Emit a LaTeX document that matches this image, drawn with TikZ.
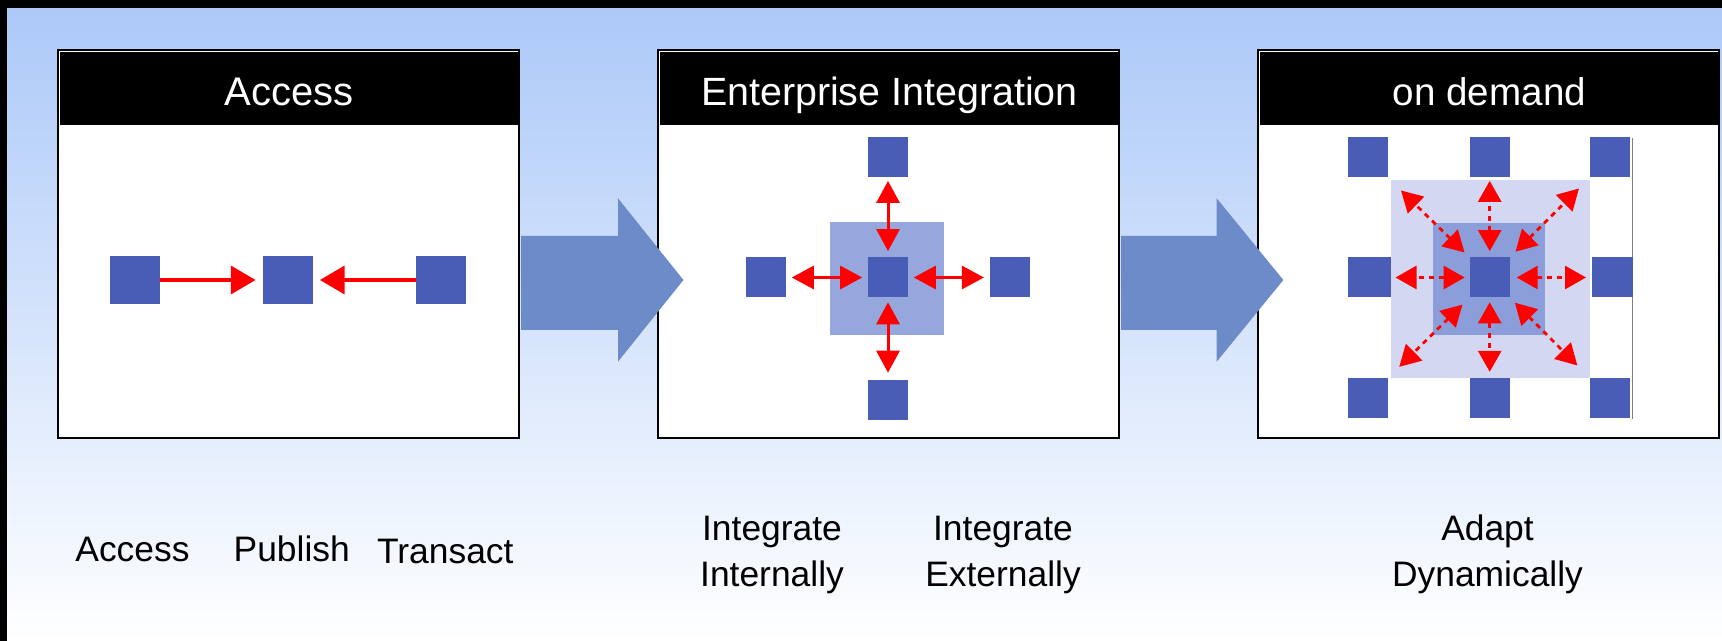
\documentclass[tikz,border=0pt]{standalone}
\usepackage{fontspec}
\setmainfont{Liberation Sans}
\usetikzlibrary{arrows.meta}
\definecolor{bgtop}{HTML}{ACC9F8}
\definecolor{bgbot}{HTML}{FFFFFF}
\definecolor{sqblue}{HTML}{4A5DB6}
\definecolor{arrblue}{HTML}{6E8BC9}
\definecolor{eibg}{HTML}{95A7DD}
\definecolor{odouter}{HTML}{D3D7F1}
\definecolor{odinner}{HTML}{8C9EDA}
\definecolor{redline}{HTML}{FF0000}
\tikzset{
  panel/.style={fill=white, draw=black, line width=1pt, inner sep=0pt, minimum width=230.5pt, minimum height=193.75pt},
  header/.style={fill=black, inner sep=0pt, text=white, minimum width=229.5pt, minimum height=36.5pt, text height=17.5pt, text depth=0pt},
  sq/.style={fill=sqblue, inner sep=0pt, minimum width=#1, minimum height=#1},
  sqr/.style 2 args={fill=sqblue, inner sep=0pt, minimum width=#1, minimum height=#2},
  bgsq/.style 2 args={inner sep=0pt, minimum width=#1, minimum height=#2},
  redone/.style={draw=redline, line width=1.6pt, -{Triangle[length=12.3pt,width=14pt]}, shorten >=3.4pt},
  redtwo/.style={draw=redline, line width=1.5pt, {Triangle[length=11pt,width=11.5pt]}-{Triangle[length=11pt,width=11.5pt]}, shorten <=2.7pt, shorten >=2.7pt},
  reddash/.style={draw=redline, line width=1.4pt, dash pattern=on 2.6pt off 2.4pt, {Triangle[length=10.5pt,width=11.5pt]}-{Triangle[length=10.5pt,width=11.5pt]}},
  bigarrow/.style={fill=arrblue},
  lbl/.style={inner sep=0pt, font=\fontsize{17.7pt}{23pt}\selectfont},
}
\begin{document}
\begin{tikzpicture}[x=0.5pt,y=-0.5pt]
\useasboundingbox (0,0) rectangle (1722,641);
% frame and background
\fill[black] (0,0) rectangle (1722,641);
\shade[top color=bgtop, bottom color=bgbot] (7,9) rectangle (1722,641);

% ---------- Panel 1: Access ----------
\node[panel] (p1) at (288.9,243.75) {};
\node[header, font=\fontsize{20pt}{22pt}\selectfont] (h1) at (289.4,88.5) {Access};
\node[sqr={25pt}{24pt}] (a1) at (134.9,280) {};
\node[sqr={25pt}{24pt}] (a2) at (287.75,280) {};
\node[sqr={25pt}{24pt}] (a3) at (441,280) {};
\draw[redone] (a1) -- (a2);
\draw[redone] (a3) -- (a2);

% ---------- Panel 2: Enterprise Integration ----------
\node[panel] (p2) at (888.9,243.75) {};
\node[header, font=\fontsize{19.7pt}{22pt}\selectfont] (h2) at (889.4,88.5) {Enterprise Integration};
\node[bgsq={57.4pt}{56.65pt}, fill=eibg] (e0) at (887,278.3) {};
\node[sq=20pt] (ec) at (888,277.5) {};
\node[sq=20pt] (et) at (888,157.5) {};
\node[sq=20pt] (eb) at (888,399.7) {};
\node[sq=20pt] (el) at (766,277.5) {};
\node[sq=20pt] (er) at (1009.7,277.5) {};
\draw[redtwo, shorten <=3pt, shorten >=1.5pt] (ec) -- (et);
\draw[redtwo, shorten <=2.2pt, shorten >=3.3pt] (ec) -- (eb);
\draw[redtwo] (ec) -- (el);
\draw[redtwo] (ec) -- (er);

% ---------- Panel 3: on demand ----------
\node[panel] (p3) at (1488.9,243.75) {};
\node[header, font=\fontsize{19.3pt}{22pt}\selectfont] (h3) at (1489.4,88.5) {on demand};
\node[bgsq={99.7pt}{99pt}, fill=odouter] (o1) at (1490.3,279) {};
\node[bgsq={56pt}{56.2pt}, fill=odinner] (o2) at (1489.2,278.8) {};
\draw[gray, line width=0.6pt] (1632.6,138) -- (1632.6,419);
\node[sq=20pt] (d11) at (1367.7,157.5) {};
\node[sq=20pt] (d12) at (1489.7,157.5) {};
\node[sq=20pt] (d13) at (1610,157.5) {};
\node[sqr={21.5pt}{20pt}] (d21) at (1369.2,277.5) {};
\node[sq=20pt] (dc) at (1489.7,277.5) {};
\node[sqr={20.7pt}{20pt}] (d23) at (1612.3,277.5) {};
\node[sq=20pt] (d31) at (1367.7,398.2) {};
\node[sq=20pt] (d32) at (1489.7,398.2) {};
\node[sq=20pt] (d33) at (1610,398.2) {};
\draw[reddash, shorten <=3pt, shorten >=1.5pt] (dc) -- (d12);
\draw[reddash, shorten <=2.2pt, shorten >=3pt] (dc) -- (d32);
\draw[reddash, shorten <=2.3pt, shorten >=2.2pt] (dc) -- (d21);
\draw[reddash, shorten <=3.3pt, shorten >=2.6pt] (dc) -- (d23);
\draw[reddash, shorten <=3.3pt, shorten >=9pt] (dc.north west) -- (d11.south east);
\draw[reddash, shorten <=3.8pt, shorten >=7.5pt] (dc.north east) -- (d13.south west);
\draw[reddash, shorten <=4.8pt, shorten >=7.8pt] (dc.south west) -- (d31.north east);
\draw[reddash, shorten <=3.4pt, shorten >=8.7pt] (dc.south east) -- (d33.north west);

% ---------- Big block arrows ----------
\fill[bigarrow] (521,236) -- (618,236) -- (618,198.3) -- (683.4,280) -- (618,361.7) -- (618,330) -- (521,330) -- cycle;
\fill[bigarrow] (1121.2,236) -- (1216.7,236) -- (1216.7,198.3) -- (1283.3,280) -- (1216.7,361.7) -- (1216.7,330) -- (1121.2,330) -- cycle;

% ---------- Bottom labels ----------
\node[lbl, anchor=base west] (l1) at (75,561.7) {Access};
\node[lbl, anchor=base west] (l2) at (233.3,561.7) {Publish};
\node[lbl, anchor=base west] (l3) at (376.7,563.3) {Transact};
\node[lbl, align=center, anchor=base] (l4) at (772,586) {Integrate\\Internally};
\node[lbl, align=center, anchor=base] (l5) at (1003,586) {Integrate\\Externally};
\node[lbl, align=center, anchor=base] (l6) at (1487.5,586) {Adapt\\Dynamically};
\end{tikzpicture}
\end{document}
